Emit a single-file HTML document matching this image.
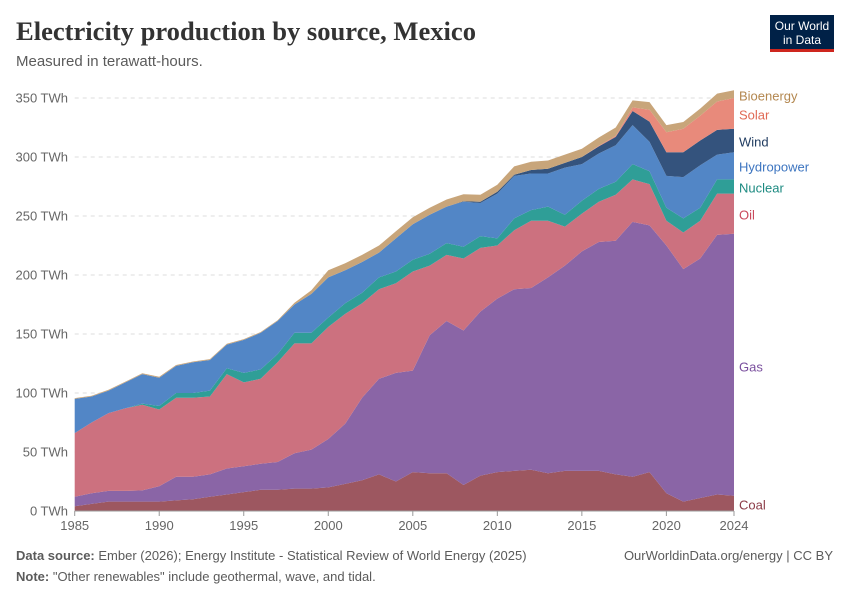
<!DOCTYPE html>
<html><head><meta charset="utf-8">
<style>
body{margin:0;background:#fff;font-family:"Liberation Sans",sans-serif;}
svg{display:block}
</style></head>
<body>
<svg id="chart" width="850" height="600" viewBox="0 0 850 600" xmlns="http://www.w3.org/2000/svg">
<text x="16" y="40" font-family="Liberation Serif,serif" font-weight="bold" font-size="26" fill="#333" textLength="460" lengthAdjust="spacingAndGlyphs">Electricity production by source, Mexico</text>
<text x="16" y="66" font-size="15" fill="#5b5b5b">Measured in terawatt-hours.</text>
<g>
<rect x="770" y="15" width="64" height="35" fill="#002147"/>
<rect x="770" y="49" width="64" height="3" fill="#ce261e"/>
<text x="802" y="30" font-size="12" fill="#fff" text-anchor="middle">Our World</text>
<text x="802" y="44" font-size="12" fill="#fff" text-anchor="middle">in Data</text>
</g>
<g id="grid"></g><g id="areas"></g><g id="axes"></g><g id="labels"></g>
<text x="16" y="560" font-size="13" fill="#5b5b5b"><tspan font-weight="bold">Data source:</tspan> Ember (2026); Energy Institute - Statistical Review of World Energy (2025)</text>
<text x="833" y="560" font-size="13" fill="#5b5b5b" text-anchor="end">OurWorldinData.org/energy | CC BY</text>
<text x="16" y="581" font-size="13" fill="#5b5b5b"><tspan font-weight="bold">Note:</tspan> "Other renewables" include geothermal, wave, and tidal.</text>
</svg>
<script>
const years = [];
for (let y = 1985; y <= 2024; y++) years.push(y);
const coal = [4,6,8,8,8,8,9,10,12,14,16,18,18,19,19,20,23,26,31,25,33,32,32,22,30,33,34,35,32,34,34,34,31,29,33,15,8,11,14,13];
const gas = [8,9,9,9,9.5,13,20,19,19,22,22,22,23.5,30,33,41,51,70,81,92,86,117,129,131,139,147,154,154,166,174,186,194,198,216,209,210,197,203,220,222];
const oil = [54,60,66,70,72.5,65,67,67,66,80,71,72,84.5,93,90,95,93,80,76,76,84,59,56,61,54,45,50,57,48,33,32,34,39,36,35,21,31,32,35,34];
const nuclear = [0,0,0,0,1,3,4,4,5,5,8,8,7,9,9,8,9,9,10,10,10,10,10,10,10,6,10,9,12,10,11,11,11,13,11,11,12,11,12,12];
const hydro = [29,22,19,22,25,24,23,26,26,20,28,31,28,24,33,34,28,26,21,28,30,33,31,38,28,38,36,31,28,40,31,30,31,33,25,27,35,36,21,23];
const wind = [0,0,0,0,0,0,0,0,0,0,0,0,0,0,0,0,0,0,0,0,0,0,0,0.5,1,1.5,1,3,4,4,6,6,7,12,17,20,21,21,21,20];
const solar = [0,0,0,0,0,0,0,0,0,0,0,0,0,0,0,0,0,0,0,0,0,0,0,0,0,0,0,0,0,0,0,0.5,1,3,10,17,20,21,24,26];
const bio = [0.7,0.7,0.7,0.7,0.7,0.7,0.7,0.7,0.7,0.7,0.7,0.7,0.7,1.5,3,6,6,6,6,6,6,6,6,6,6,6,7,7,7,7,7,7,7,6,6.5,6,5.7,6,6.7,6.5];
const yTicks = [0,50,100,150,200,250,300,350];
const xTicks = [1985,1990,1995,2000,2005,2010,2015,2020,2024];
const seriesNames = ["Coal","Gas","Oil","Nuclear","Hydropower","Wind","Solar","Bioenergy"];
const seriesData = [coal,gas,oil,nuclear,hydro,wind,solar,bio];
const fills = ["#9d5760","#8a65a6","#cc717f","#2f9e97","#5286c6","#34537d","#e88a7b","#c8a57a"];
const textCols = ["#8b3b47","#7a4f9e","#c9495c","#1c8a81","#3d75c0","#1e3a5f","#e06a55","#b3874f"];
const labelY = [505,367,215,188,167,142,115,96];

const NS = "http://www.w3.org/2000/svg";
const x0 = 74.7, x1 = 734, y0 = 511, yPer = 1.18;
const xs = yr => x0 + (yr - 1985) * (x1 - x0) / 39;
const ys = v => y0 - v * yPer;
function mk(tag, attrs, parent){const e=document.createElementNS(NS,tag);for(const k in attrs)e.setAttribute(k,attrs[k]);parent.appendChild(e);return e;}

const grid = document.getElementById('grid');
yTicks.forEach(t => {
  if (t > 0) {
    const l = mk('line',{x1:x0,x2:x1,y1:ys(t),y2:ys(t),stroke:'#ddd','stroke-dasharray':'4,4'},grid);
    
    
  }
  const tx = mk('text',{x:68,y:ys(t)+4.5,'font-size':13,fill:'#666','text-anchor':'end'},grid);
  tx.textContent = t + ' TWh';
  
  
});

const areas = document.getElementById('areas');
const cum = years.map(()=>0);
seriesData.forEach((s,si) => {
  const lower = cum.slice();
  s.forEach((v,i)=>cum[i]+=v);
  let d = '';
  years.forEach((yr,i)=>{d += (i?'L':'M') + xs(yr).toFixed(1) + ',' + ys(cum[i]).toFixed(1);});
  for (let i=years.length-1;i>=0;i--) d += 'L' + xs(years[i]).toFixed(1) + ',' + ys(lower[i]).toFixed(1);
  d += 'Z';
  const p = mk('path',{d:d,fill:fills[si]},areas);
  
  
  const lb = mk('text',{x:739,y:labelY[si]+4.5,'font-size':13,fill:textCols[si]},document.getElementById('labels'));
  lb.textContent = seriesNames[si];
  
  
});

const axes = document.getElementById('axes');
const ax = mk('line',{x1:x0,x2:x1,y1:y0,y2:y0,stroke:'#999'},axes);


xTicks.forEach(t => {
  const tk = mk('line',{x1:xs(t),x2:xs(t),y1:y0,y2:y0+5,stroke:'#999'},axes);
  
  
  const tx = mk('text',{x:xs(t),y:530,'font-size':13,fill:'#666','text-anchor':'middle'},axes);
  tx.textContent = t;
  
  
});
</script>
</body></html>
